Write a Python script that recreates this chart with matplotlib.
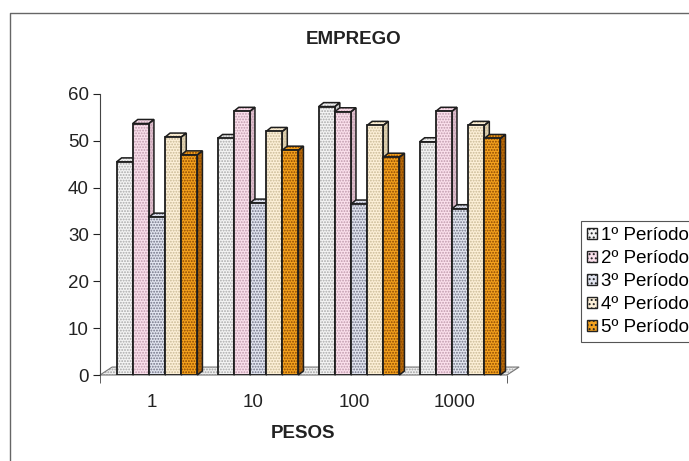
import matplotlib
matplotlib.use("Agg")
import matplotlib.pyplot as plt
from matplotlib.patches import Polygon, Patch
from matplotlib.lines import Line2D

plt.rcParams["font.family"] = ["Liberation Sans", "DejaVu Sans"]
plt.rcParams["hatch.linewidth"] = 0.9

# data
categories = ["1", "10", "100", "1000"]
series_names = ["1º Período", "2º Período", "3º Período", "4º Período", "5º Período"]
periodo_1 = [45.5, 50.5, 57.3, 49.8]
periodo_2 = [53.7, 56.3, 56.2, 56.3]
periodo_3 = [33.7, 36.7, 36.5, 35.5]
periodo_4 = [50.8, 52.0, 53.3, 53.3]
periodo_5 = [47.0, 48.0, 46.5, 50.5]
series = [periodo_1, periodo_2, periodo_3, periodo_4, periodo_5]

# face colour, dot colour, side colour
faces = ["#f4f4f4", "#fbe0ec", "#e2e5f0", "#fdf0d8", "#f4a21e"]
dots = ["#a8a8a8", "#bf9aac", "#707284", "#c8b894", "#8a4600"]
sides = ["#d6d6d6", "#dfc0ce", "#b6bacb", "#e0d2b2", "#b86a08"]

fig = plt.figure(figsize=(6.89, 4.61), dpi=100)
ax = fig.add_axes([100 / 689, 86 / 461, 407 / 689, 281 / 461])

w = 0.16
dx, dy = 0.05, 0.86
x0, x1 = -0.564, 3.465
fdx, fdy = 0.12, 1.7
pattern = "......"

# floor
floor = [(x0, 0), (x1, 0), (x1 + fdx, fdy), (x0 + fdx, fdy)]
ax.add_patch(Polygon(floor, closed=True, facecolor="#efefef", edgecolor="#a0a0a0",
                     hatch=pattern, lw=0, zorder=1, clip_on=False))
ax.add_patch(Polygon(floor, closed=True, fill=False, edgecolor="#777777",
                     lw=0.8, zorder=1.1, clip_on=False))

z = 2
for g in range(len(categories)):
    for k, vals in enumerate(series):
        v = vals[g]
        left = g + (k - 2) * w - w / 2
        side = [(left + w, 0), (left + w + dx, dy), (left + w + dx, v + dy), (left + w, v)]
        top = [(left, v), (left + w, v), (left + w + dx, v + dy), (left + dx, v + dy)]
        for poly, fc in [(side, sides[k]), (top, faces[k])]:
            ax.add_patch(Polygon(poly, closed=True, facecolor=fc, edgecolor=dots[k],
                                 hatch=pattern, lw=0, zorder=z, clip_on=False))
            ax.add_patch(Polygon(poly, closed=True, fill=False, edgecolor="#1e1e1e",
                                 lw=1.1, zorder=z + 0.1, clip_on=False))
        ax.bar(left, v, width=w, align="edge", color=faces[k], edgecolor=dots[k],
               hatch=pattern, linewidth=0, zorder=z + 0.2)
        ax.bar(left, v, width=w, align="edge", fill=False, edgecolor="#1e1e1e",
               linewidth=1.3, zorder=z + 0.3)
        z += 1

ax.set_xlim(x0, x1)
ax.set_ylim(0, 60)
ax.set_yticks(range(0, 61, 10))
ax.set_xticks([g - 0.05 for g in range(len(categories))])
ax.set_xticklabels(categories)
ax.set_xticks([x0, x1], minor=True)
ax.tick_params(axis="x", which="major", length=0, labelsize=13.5, pad=14, colors="#222222")
ax.tick_params(axis="x", which="minor", length=6, color="#444444")
ax.tick_params(axis="y", length=5, labelsize=13.5, colors="#222222", pad=3)
for s in ["top", "right", "bottom"]:
    ax.spines[s].set_visible(False)
ax.spines["left"].set_color("#444444")
ax.patch.set_alpha(0)

fig.text(354 / 689, 1 - 40 / 461, "EMPREGO", fontsize=13.5, fontweight="bold",
         color="#222222", ha="center", va="center")
ax.set_xlabel("PESOS", fontsize=13.5, fontweight="bold", color="#222222", labelpad=10)

handles = [Patch(facecolor=faces[k], edgecolor=dots[k], hatch="....") for k in range(5)]
leg = fig.legend(handles, series_names, loc="upper left",
                 bbox_to_anchor=(581 / 689, 1 - 221 / 461), borderaxespad=0,
                 fontsize=13.5, handlelength=0.55, handleheight=0.55,
                 handletextpad=0.18, labelspacing=0.32, borderpad=0.32,
                 fancybox=False, framealpha=1, edgecolor="#555555")
leg.get_frame().set_linewidth(0.8)
for h in leg.legend_handles:
    h.set_edgecolor("#222222")

# outer chart border
fig.add_artist(Line2D([10 / 689, 10 / 689, 1], [0, 1 - 13 / 461, 1 - 13 / 461],
                      transform=fig.transFigure, color="#666666", lw=1.0))

fig.savefig("out.png", dpi=100)
